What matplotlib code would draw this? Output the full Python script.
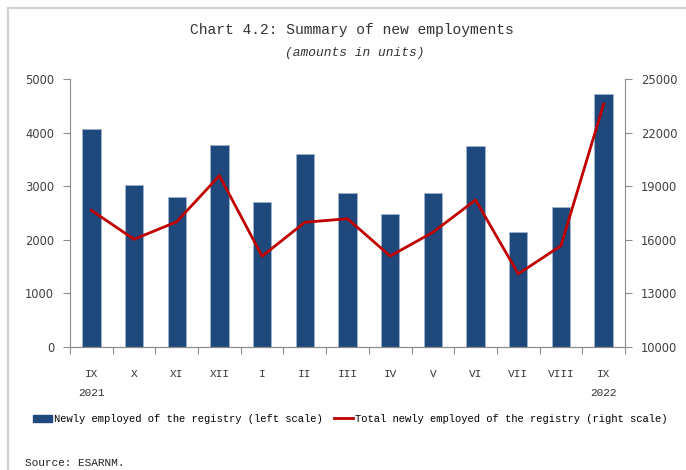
import matplotlib.pyplot as plt
from matplotlib.patches import Patch, Rectangle
from matplotlib.lines import Line2D

months = ["IX", "X", "XI", "XII", "I", "II", "III", "IV", "V", "VI", "VII", "VIII", "IX"]
years = {0: "2021", 12: "2022"}
newly_employed = [4070, 3030, 2800, 3775, 2700, 3605, 2870, 2475, 2865, 3745, 2150, 2615, 4715]
total_employed = [17650, 16030, 17010, 19590, 15080, 16980, 17180, 15090, 16420, 18230, 14090, 15670, 23600]

BLUE = "#1f497d"
RED = "#c00000"
GREY = "#404040"
MONO = "Liberation Mono"


def main():
    fig = plt.figure(figsize=(6.86, 4.70), dpi=100)
    W, H = 686, 470

    # light frame around the chart (cut off on right/bottom)
    fig.patches.append(Rectangle((8 / W, -0.1), 1.2, 1.1 - 8 / H, transform=fig.transFigure,
                                 fill=False, edgecolor="#d0d0d0", linewidth=1.5))

    ax = fig.add_axes([70 / W, 1 - 347 / H, 555 / W, 268 / H])
    x = list(range(len(months)))
    ax.bar(x, newly_employed, width=0.43, color=BLUE, edgecolor="#9fb3cc", linewidth=0.6, zorder=2)
    ax.set_xlim(-0.5, len(months) - 0.5)
    ax.set_ylim(0, 5000)
    ax.set_yticks(range(0, 5001, 1000))

    ax2 = ax.twinx()
    ax2.plot(x, total_employed, color=RED, linewidth=2, zorder=3)
    ax2.set_ylim(10000, 25000)
    ax2.set_yticks(range(10000, 25001, 3000))

    for a in (ax, ax2):
        a.spines["top"].set_visible(False)
        for s in ("left", "right", "bottom"):
            a.spines[s].set_color("#8c8c8c")
        a.tick_params(axis="y", colors="#8c8c8c", labelcolor=GREY, labelsize=8.3, length=5, pad=6.5)
    ax2.spines["left"].set_visible(False)
    ax.spines["right"].set_visible(False)

    ax.set_xticks([i - 0.5 for i in range(len(months) + 1)])
    ax.set_xticklabels([])
    ax.tick_params(axis="x", colors="#8c8c8c", length=5)
    for i, m in enumerate(months):
        ax.text(i, -0.1, m, transform=ax.get_xaxis_transform(), ha="center", va="center",
                fontsize=8, family=MONO, color="#333333")
        if i in years:
            ax.text(i, -0.17, years[i], transform=ax.get_xaxis_transform(), ha="center",
                    va="center", fontsize=8, family=MONO, color="#333333")

    fig.text(352 / W, 1 - 30 / H, "Chart 4.2: Summary of new employments", ha="center",
             va="center", fontsize=10.5, family=MONO, color="#333333")
    fig.text(355 / W, 1 - 53 / H, "(amounts in units)", ha="center", va="center",
             fontsize=9.3, family=MONO, style="italic", color="#333333")

    handles = [Patch(facecolor=BLUE, edgecolor=BLUE),
               Line2D([0], [0], color=RED, linewidth=2)]
    labels = ["Newly employed of the registry (left scale)",
              "Total newly employed of the registry (right scale)"]
    fig.legend(handles, labels, loc="center", bbox_to_anchor=(350 / W, 1 - 419 / H), ncol=2,
               frameon=False, prop={"family": MONO, "size": 7.55}, handlelength=1.8,
               handletextpad=0.2, columnspacing=1.1)

    fig.text(25 / W, 1 - 463 / H, "Source: ESARNM.", ha="left", va="center", fontsize=8,
             family=MONO, color="#222222")

    fig.savefig("out.png", dpi=100)


if __name__ == "__main__":
    main()
